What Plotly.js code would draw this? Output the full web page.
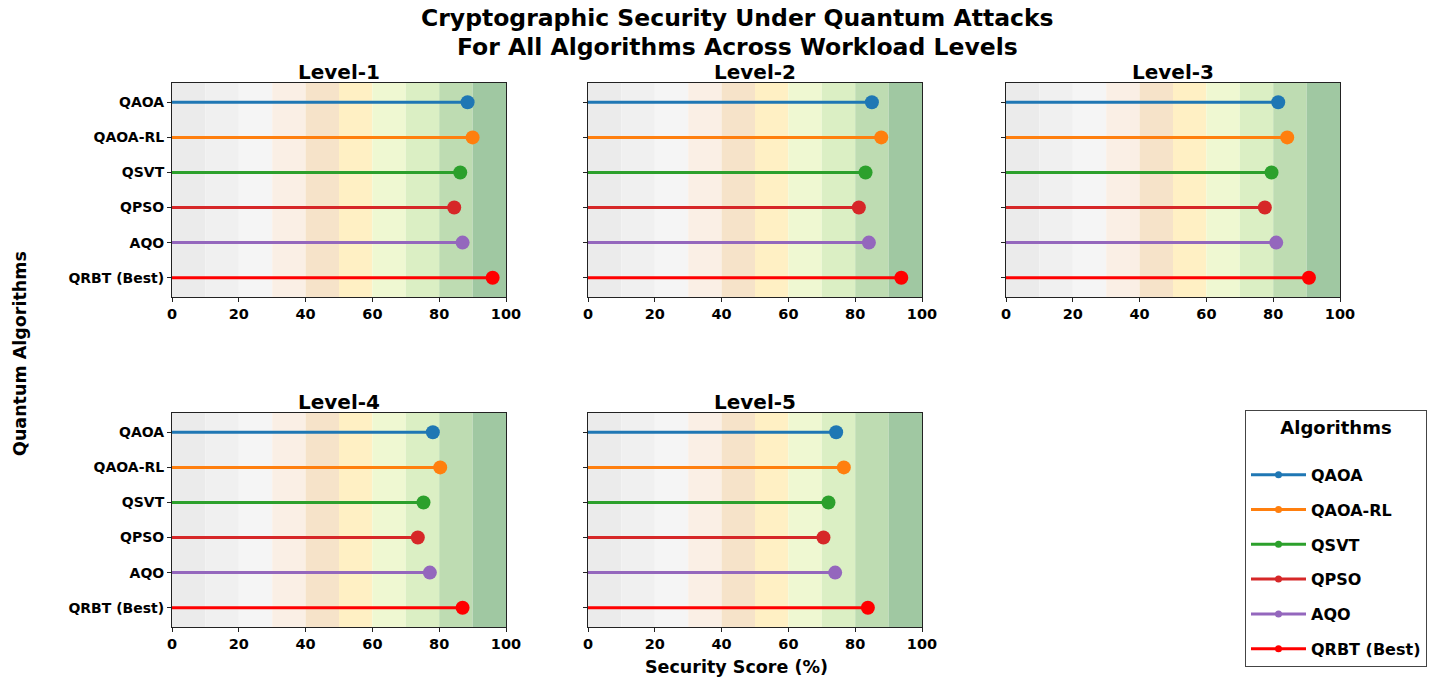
<!DOCTYPE html>
<html>
<head>
<meta charset="utf-8">
<script src="https://cdn.plot.ly/plotly-3.0.1.min.js"></script>
<style>
html,body{margin:0;padding:0;background:#fff;}
#chart{width:1452px;height:679px;}
</style>
</head>
<body>
<div id="chart"></div>
<script>
// ---- data ----
const levels = ['Level-1', 'Level-2', 'Level-3', 'Level-4', 'Level-5'];
const algorithms = ['QAOA', 'QAOA-RL', 'QSVT', 'QPSO', 'AQO', 'QRBT (Best)'];
const level1 = [88.5, 90.0, 86.3, 84.5, 87.0, 96.0];
const level2 = [85.0, 87.8, 83.1, 81.1, 84.1, 93.8];
const level3 = [81.5, 84.2, 79.5, 77.5, 80.9, 90.7];
const level4 = [78.1, 80.3, 75.3, 73.6, 77.2, 87.0];
const level5 = [74.3, 76.6, 72.0, 70.5, 74.0, 83.8];
const xTicks = [0, 20, 40, 60, 80, 100];
const bandEdges = [0, 10, 20, 30, 40, 50, 60, 70, 80, 90, 100];
const titleLines = ['Cryptographic Security Under Quantum Attacks',
                    'For All Algorithms Across Workload Levels'];

// ---- styles ----
const scores = [level1, level2, level3, level4, level5];
const colors = ['#1f77b4', '#ff7f0e', '#2ca02c', '#d62728', '#9467bd', '#ff0000'];
const bandColors = ['#ebebeb', '#f0f0f0', '#f5f5f5', '#faefe5', '#f6e3c9',
                    '#fff0c4', '#eff8d2', '#dbefc4', '#bedcb2', '#a0c8a2'];
const W = 1452, H = 679;
const panels = [
  {x0: 172, x1: 506, y0: 83, y1: 297},
  {x0: 588, x1: 922, y0: 83, y1: 297},
  {x0: 1006, x1: 1340, y0: 83, y1: 297},
  {x0: 172, x1: 506, y0: 413, y1: 627},
  {x0: 588, x1: 922, y0: 413, y1: 627}
];
const FONT = 'DejaVu Sans, sans-serif';

const traces = [];
const shapes = [];
const annotations = [];
const layout = {
  width: W, height: H,
  margin: {l: 0, r: 0, t: 0, b: 0},
  paper_bgcolor: '#ffffff',
  plot_bgcolor: '#ffffff',
  font: {family: FONT, color: '#000', size: 14},
  showlegend: true,
  legend: {
    x: 1245 / W, xanchor: 'left',
    y: 1 - 410 / H, yanchor: 'top',
    bgcolor: '#ffffff',
    bordercolor: '#444',
    borderwidth: 1,
    font: {family: FONT, size: 16, color: '#000'},
    title: {text: '<b>Algorithms</b><br> ', font: {family: FONT, size: 18, color: '#000'}, side: 'top center'},
    tracegroupgap: 11,
    itemwidth: 55,
    traceorder: 'grouped'
  },
  hovermode: 'closest'
};

panels.forEach((p, i) => {
  const n = i + 1;
  const xa = 'xaxis' + (n === 1 ? '' : n);
  const ya = 'yaxis' + (n === 1 ? '' : n);
  const xr = 'x' + (n === 1 ? '' : n);
  const yr = 'y' + (n === 1 ? '' : n);
  const showY = (i === 0 || i === 3);
  layout[xa] = {
    domain: [p.x0 / W, p.x1 / W],
    anchor: yr,
    range: [0, 100],
    tickvals: xTicks,
    ticktext: xTicks.map(v => '<b>' + v + '</b>'),
    ticks: 'outside', ticklen: 4, tickwidth: 1, tickcolor: '#222',
    showline: true, linecolor: '#222', linewidth: 1, mirror: true,
    showgrid: false, zeroline: false,
    tickfont: {family: FONT, size: 14.5, color: '#000'}
  };
  layout[ya] = {
    domain: [1 - p.y1 / H, 1 - p.y0 / H],
    anchor: xr,
    type: 'linear',
    range: [5.55, -0.55],
    tickvals: algorithms.map((a, k) => k),
    ticktext: showY ? algorithms.map(a => '<b>' + a + '</b>') : algorithms.map(() => ''),
    ticks: 'outside', ticklen: 4, tickwidth: 1, tickcolor: '#222',
    showline: true, linecolor: '#222', linewidth: 1, mirror: true,
    showgrid: false, zeroline: false,
    tickfont: {family: FONT, size: 14, color: '#000'}
  };
  // background bands
  for (let b = 0; b < bandColors.length; b++) {
    shapes.push({
      type: 'rect', xref: xr, yref: yr + ' domain',
      x0: bandEdges[b], x1: bandEdges[b + 1], y0: 0, y1: 1,
      fillcolor: bandColors[b], line: {width: 0}, layer: 'below'
    });
  }
  // subplot title
  annotations.push({
    text: '<b>' + levels[i] + '</b>',
    xref: 'paper', yref: 'paper',
    x: (p.x0 + p.x1) / 2 / W, y: 1 - p.y0 / H,
    xanchor: 'center', yanchor: 'bottom', yshift: -3,
    showarrow: false,
    font: {family: FONT, size: 20, color: '#000'}
  });
  // lollipops
  algorithms.forEach((alg, k) => {
    const v = scores[i][k];
    traces.push({
      type: 'scatter',
      mode: 'lines+markers',
      x: [0, v],
      y: [k, k],
      xaxis: xr, yaxis: yr,
      name: '<b>' + alg + '</b>',
      legendgroup: alg,
      showlegend: i === 0,
      line: {color: colors[k], width: 3},
      marker: {color: colors[k], size: [0, 14], opacity: 1, line: {width: 0}},
      hovertemplate: alg + ': %{x:.1f}%<extra>' + levels[i] + '</extra>'
    });
  });
});

// main title (two lines, set tightly as in the reference)
const titleY = [18, 47.5];
titleLines.forEach((t, j) => {
  annotations.push({
    text: '<b>' + t + '</b>',
    xref: 'paper', yref: 'paper',
    x: 737 / W, y: 1 - titleY[j] / H,
    xanchor: 'center', yanchor: 'middle',
    showarrow: false,
    font: {family: FONT, size: 23.5, color: '#000'}
  });
});
// shared axis titles
annotations.push({
  text: '<b>Security Score (%)</b>',
  xref: 'paper', yref: 'paper',
  x: 736 / W, y: 1 - 667 / H,
  xanchor: 'center', yanchor: 'middle',
  showarrow: false,
  font: {family: FONT, size: 17.5, color: '#000'}
});
annotations.push({
  text: '<b>Quantum Algorithms</b>',
  xref: 'paper', yref: 'paper',
  x: 20 / W, y: 1 - 354 / H,
  xanchor: 'center', yanchor: 'middle',
  textangle: -90,
  showarrow: false,
  font: {family: FONT, size: 17.5, color: '#000'}
});

layout.shapes = shapes;
layout.annotations = annotations;

Plotly.newPlot('chart', traces, layout, {displayModeBar: false, responsive: false});
</script>
</body>
</html>
